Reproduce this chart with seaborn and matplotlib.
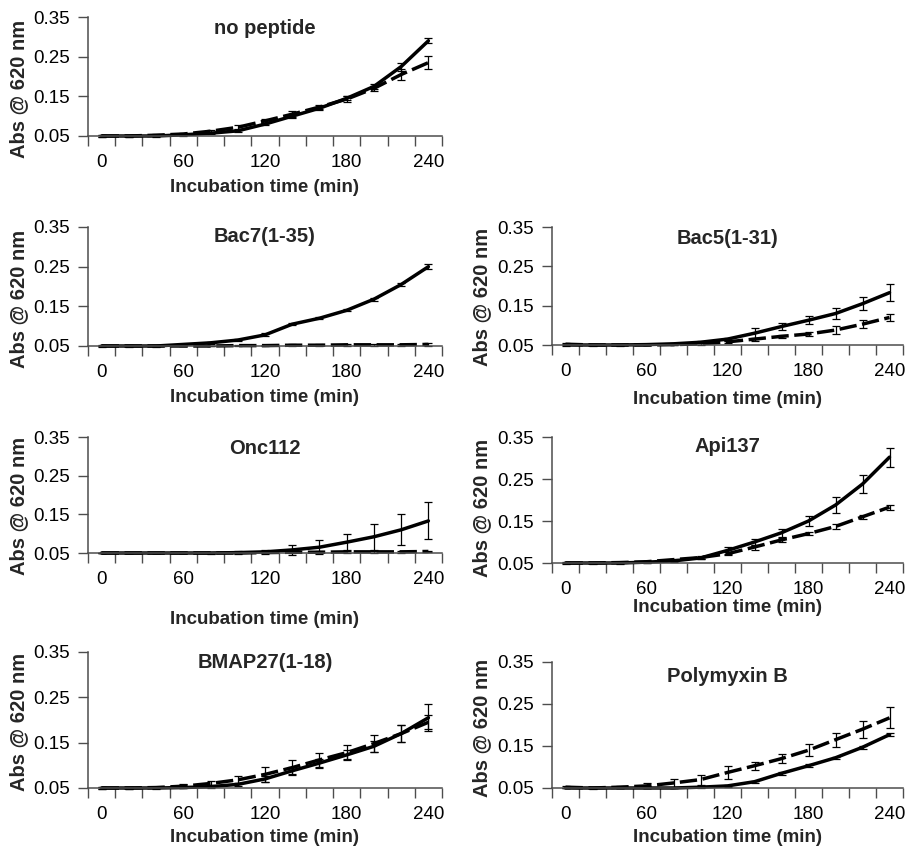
import numpy as np
import pandas as pd
import seaborn as sns
import matplotlib
matplotlib.use("Agg")
import matplotlib.pyplot as plt

# sampling times (min)
time_min = [0, 20, 40, 60, 80, 100, 120, 140, 160, 180, 200, 220, 240]

# series a = solid line, series b = dashed line (mean and error)
nopep_a = [0.050, 0.050, 0.050, 0.053, 0.057, 0.063, 0.080, 0.100, 0.120, 0.145, 0.175, 0.225, 0.290]
nopep_a_err = [0.002, 0.002, 0.002, 0.002, 0.002, 0.003, 0.003, 0.004, 0.004, 0.005, 0.006, 0.010, 0.006]
nopep_b = [0.050, 0.050, 0.052, 0.055, 0.062, 0.072, 0.088, 0.105, 0.123, 0.143, 0.170, 0.205, 0.235]
nopep_b_err = [0.002, 0.002, 0.002, 0.003, 0.003, 0.005, 0.006, 0.007, 0.006, 0.007, 0.007, 0.015, 0.016]

bac7_a = [0.050, 0.050, 0.050, 0.054, 0.058, 0.065, 0.078, 0.105, 0.120, 0.140, 0.168, 0.205, 0.250]
bac7_a_err = [0.002, 0.002, 0.002, 0.002, 0.002, 0.003, 0.004, 0.003, 0.003, 0.003, 0.004, 0.004, 0.006]
bac7_b = [0.050, 0.050, 0.050, 0.050, 0.050, 0.051, 0.051, 0.052, 0.052, 0.053, 0.053, 0.053, 0.054]
bac7_b_err = [0.001, 0.001, 0.001, 0.001, 0.001, 0.002, 0.002, 0.002, 0.002, 0.002, 0.002, 0.003, 0.004]

bac5_a = [0.050, 0.050, 0.050, 0.051, 0.053, 0.057, 0.065, 0.080, 0.097, 0.113, 0.130, 0.155, 0.183]
bac5_a_err = [0.002, 0.002, 0.002, 0.002, 0.002, 0.003, 0.004, 0.014, 0.010, 0.010, 0.014, 0.017, 0.022]
bac5_b = [0.052, 0.050, 0.050, 0.050, 0.051, 0.053, 0.058, 0.065, 0.072, 0.078, 0.088, 0.103, 0.120]
bac5_b_err = [0.002, 0.001, 0.001, 0.001, 0.002, 0.002, 0.003, 0.004, 0.004, 0.005, 0.010, 0.010, 0.008]

onc112_a = [0.050, 0.050, 0.050, 0.050, 0.050, 0.051, 0.053, 0.058, 0.065, 0.078, 0.092, 0.110, 0.133]
onc112_a_err = [0.001, 0.001, 0.001, 0.001, 0.002, 0.003, 0.005, 0.013, 0.018, 0.020, 0.033, 0.040, 0.048]
onc112_b = [0.050, 0.050, 0.050, 0.050, 0.050, 0.050, 0.051, 0.052, 0.052, 0.053, 0.053, 0.053, 0.054]
onc112_b_err = [0.001, 0.001, 0.001, 0.001, 0.001, 0.001, 0.002, 0.002, 0.002, 0.002, 0.002, 0.002, 0.002]

api137_a = [0.050, 0.050, 0.050, 0.052, 0.055, 0.062, 0.080, 0.100, 0.122, 0.150, 0.188, 0.238, 0.302]
api137_a_err = [0.002, 0.002, 0.002, 0.002, 0.003, 0.003, 0.008, 0.008, 0.010, 0.013, 0.018, 0.022, 0.023]
api137_b = [0.050, 0.050, 0.051, 0.053, 0.058, 0.063, 0.072, 0.088, 0.105, 0.120, 0.137, 0.160, 0.183]
api137_b_err = [0.001, 0.001, 0.002, 0.002, 0.002, 0.003, 0.004, 0.006, 0.004, 0.004, 0.005, 0.005, 0.006]

bmap27_a = [0.050, 0.050, 0.050, 0.051, 0.053, 0.058, 0.070, 0.088, 0.105, 0.123, 0.142, 0.170, 0.205]
bmap27_a_err = [0.002, 0.002, 0.002, 0.002, 0.003, 0.004, 0.006, 0.008, 0.010, 0.010, 0.012, 0.018, 0.030]
bmap27_b = [0.050, 0.050, 0.051, 0.054, 0.060, 0.068, 0.080, 0.095, 0.112, 0.128, 0.148, 0.170, 0.195]
bmap27_b_err = [0.002, 0.002, 0.002, 0.004, 0.005, 0.008, 0.016, 0.016, 0.016, 0.017, 0.018, 0.018, 0.015]

polyb_a = [0.050, 0.050, 0.050, 0.050, 0.050, 0.052, 0.055, 0.065, 0.085, 0.103, 0.122, 0.147, 0.177]
polyb_a_err = [0.001, 0.001, 0.001, 0.001, 0.001, 0.002, 0.002, 0.002, 0.003, 0.003, 0.003, 0.003, 0.004]
polyb_b = [0.052, 0.050, 0.052, 0.055, 0.062, 0.070, 0.087, 0.103, 0.120, 0.140, 0.165, 0.190, 0.217]
polyb_b_err = [0.002, 0.002, 0.003, 0.006, 0.010, 0.012, 0.015, 0.009, 0.010, 0.014, 0.017, 0.020, 0.025]

titles = ["no peptide", "Bac7(1-35)", "Bac5(1-31)", "Onc112", "Api137", "BMAP27(1-18)", "Polymyxin B"]
series_data = [
    (nopep_a, nopep_a_err, nopep_b, nopep_b_err),
    (bac7_a, bac7_a_err, bac7_b, bac7_b_err),
    (bac5_a, bac5_a_err, bac5_b, bac5_b_err),
    (onc112_a, onc112_a_err, onc112_b, onc112_b_err),
    (api137_a, api137_a_err, api137_b, api137_b_err),
    (bmap27_a, bmap27_a_err, bmap27_b, bmap27_b_err),
    (polyb_a, polyb_a_err, polyb_b, polyb_b_err),
]
x_ticklabels = ["0", "60", "120", "180", "240"]
y_ticks = [0.05, 0.15, 0.25, 0.35]

# layout in pixels: left, top, right, bottom, title_y, xlabel_y, ylabel_x, ylabel_y
W, H = 907, 851
layout = [
    (88, 17, 442, 136, 28, 188, 19, 89),
    (88, 227, 442, 346, 237, 398, 19, 299),
    (552, 227, 903, 345, 238, 399, 482, 297),
    (88, 437, 442, 553, 448, 620, 19, 506),
    (552, 437, 903, 563, 447, 608, 482, 508),
    (88, 652, 442, 788, 663, 838, 19, 722),
    (552, 662, 903, 788, 677, 838, 482, 728),
]

sns.set_theme(style="ticks")
plt.rcParams['font.family'] = ['Liberation Sans', 'DejaVu Sans']

fig = plt.figure(figsize=(W / 100, H / 100), dpi=100)
axis_col = "#4d4d4d"

for title, (a, a_err, b, b_err), (l, t, r, bt, ty, xly, ylx, yly) in zip(titles, series_data, layout):
    ax = fig.add_axes([l / W, 1 - bt / H, (r - l) / W, (bt - t) / H])
    df = pd.DataFrame({
        "time": time_min + time_min,
        "abs": a + b,
        "series": ["a"] * len(time_min) + ["b"] * len(time_min),
    })
    sns.lineplot(data=df, x="time", y="abs", style="series",
                 dashes={"a": "", "b": (5, 1.6)}, color="black", lw=2.5,
                 ax=ax, legend=False, errorbar=None)
    for ln in ax.get_lines():
        ln.set_clip_on(False)
    for ys, es in ((a, a_err), (b, b_err)):
        eb = ax.errorbar(time_min, ys, yerr=es, fmt="none", ecolor="black",
                         elinewidth=0.9, capsize=3.2, capthick=0.9)
        for child in eb.get_children():
            child.set_clip_on(False)

    ax.set_xlim(-10, 250)
    ax.set_ylim(0.05, 0.35)
    ax.set_xticks(np.arange(-10, 251, 20))
    ax.set_xticklabels([])
    ax.set_xticks([0, 60, 120, 180, 240], minor=True)
    ax.set_xticklabels(x_ticklabels, minor=True)
    ax.set_yticks(y_ticks)
    ax.set_yticklabels([f"{v:.2f}" for v in y_ticks])
    ax.tick_params(axis="x", which="major", length=7, width=1, color=axis_col)
    ax.tick_params(axis="x", which="minor", length=0, pad=13, labelsize=13.5, labelcolor="black")
    ax.tick_params(axis="y", length=7, width=1, color=axis_col, pad=6, labelsize=13.5, labelcolor="black")
    sns.despine(ax=ax)
    for s in ("left", "bottom"):
        ax.spines[s].set_color(axis_col)
        ax.spines[s].set_linewidth(1.1)

    ax.text(0.5, 1 - (ty - t) / (bt - t), title, transform=ax.transAxes,
            ha="center", va="center", fontsize=14.5, fontweight="bold")
    ax.set_xlabel("Incubation time (min)", fontsize=13.5, fontweight="bold")
    ax.set_ylabel("Abs @ 620 nm", fontsize=14.5, fontweight="bold")
    ax.xaxis.label.set_va("center")
    ax.yaxis.label.set_va("center")
    ax.xaxis.set_label_coords((l + r) / 2 / W, 1 - xly / H, transform=fig.transFigure)
    ax.yaxis.set_label_coords(ylx / W, 1 - yly / H, transform=fig.transFigure)

fig.savefig("out.png", dpi=100, facecolor="white")
